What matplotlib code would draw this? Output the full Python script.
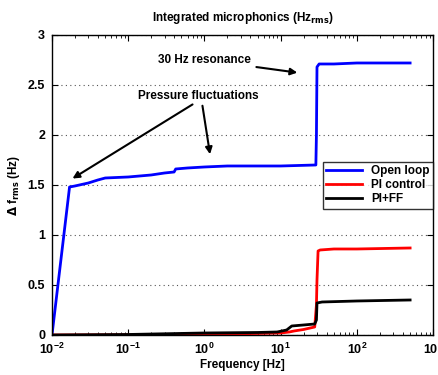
import matplotlib
matplotlib.use("Agg")
import matplotlib.pyplot as plt

plt.rcParams["font.family"] = ["Liberation Sans", "DejaVu Sans"]
plt.rcParams["font.weight"] = "bold"
plt.rcParams["mathtext.default"] = "bf"

# Open loop (blue)
freq_open = [0.01, 0.017, 0.02, 0.03, 0.04, 0.05, 0.1, 0.2, 0.3, 0.4, 0.42, 0.6, 1.0, 2.0,
             10.0, 29.0, 29.5, 30.0, 32.0, 50.0, 100.0, 500.0]
open_loop = [0.0, 1.48, 1.49, 1.52, 1.55, 1.57, 1.58, 1.60, 1.62, 1.63, 1.66, 1.67, 1.68, 1.69,
             1.69, 1.70, 2.0, 2.68, 2.71, 2.71, 2.72, 2.72]

# PI control (red)
freq_pi = [0.01, 0.1, 1.0, 5.0, 10.0, 13.0, 15.0, 20.0, 28.0, 29.5, 30.0, 31.0, 33.0, 50.0, 100.0, 500.0]
pi_control = [0.0, 0.002, 0.008, 0.015, 0.02, 0.03, 0.04, 0.055, 0.08, 0.3, 0.55, 0.84, 0.85, 0.86, 0.86, 0.87]

# PI+FF (black)
freq_ff = [0.01, 0.1, 1.0, 5.0, 9.0, 12.0, 14.0, 20.0, 28.0, 29.5, 30.0, 35.0, 100.0, 500.0]
pi_ff = [0.0, 0.005, 0.02, 0.025, 0.03, 0.05, 0.09, 0.10, 0.11, 0.15, 0.32, 0.33, 0.34, 0.35]

fig = plt.figure(figsize=(4.38, 3.75), dpi=100)
ax = fig.add_axes([0.1187, 0.1067, 0.87, 0.80])

ax.semilogx(freq_open, open_loop, color="#0000ff", lw=2, label="Open loop")
ax.semilogx(freq_pi, pi_control, color="#ff0000", lw=2, label="PI control")
ax.semilogx(freq_ff, pi_ff, color="black", lw=2, label="PI+FF")

ax.set_xlim(1e-2, 1e3)
ax.set_ylim(0, 3)
ax.set_yticks([0, 0.5, 1, 1.5, 2, 2.5, 3])
ax.set_yticklabels(["0", "0.5", "1", "1.5", "2", "2.5", "3"])
ax.yaxis.grid(True, linestyle=(0, (1, 3)), color="#555555", lw=0.8)
ax.tick_params(which="both", direction="in", top=True, right=True, labelsize=9)
ax.tick_params(which="major", length=4)
ax.tick_params(which="minor", length=2)
ax.tick_params(axis="x", pad=5)
ax.tick_params(axis="y", pad=5)

ax.set_title(r"Integrated microphonics (Hz$_{\mathbf{rms}}$)", fontsize=8.5, fontweight="bold", pad=10)
ax.set_xlabel("Frequency [Hz]", fontsize=8.5, fontweight="bold", labelpad=1)
ax.set_ylabel(r"$\Delta$ f$_{\mathbf{rms}}$ (Hz)", fontsize=8.5, fontweight="bold")

arrow = dict(arrowstyle="-|>", color="black", lw=1.5, mutation_scale=10)
ax.annotate("30 Hz resonance", xy=(18, 2.62), xytext=(1.0, 2.75),
            fontsize=8.5, fontweight="bold", ha="center", va="center", arrowprops=arrow)
ax.text(0.83, 2.39, "Pressure fluctuations", fontsize=8.5, fontweight="bold",
        ha="center", va="center")
ax.annotate("", xy=(0.0173, 1.55), xytext=(0.75, 2.32), arrowprops=arrow)
ax.annotate("", xy=(1.2, 1.78), xytext=(0.93, 2.32), arrowprops=arrow)

leg = ax.legend(loc="upper right", bbox_to_anchor=(1.0, 0.577), fontsize=8.5,
                frameon=True, fancybox=False, handlelength=3, borderpad=0.3,
                labelspacing=0.15, borderaxespad=0)
leg.get_frame().set_edgecolor("black")
leg.get_frame().set_linewidth(1)
for t in leg.get_texts():
    t.set_fontweight("bold")

for s in ax.spines.values():
    s.set_linewidth(1)

fig.savefig("out.png", dpi=100)
